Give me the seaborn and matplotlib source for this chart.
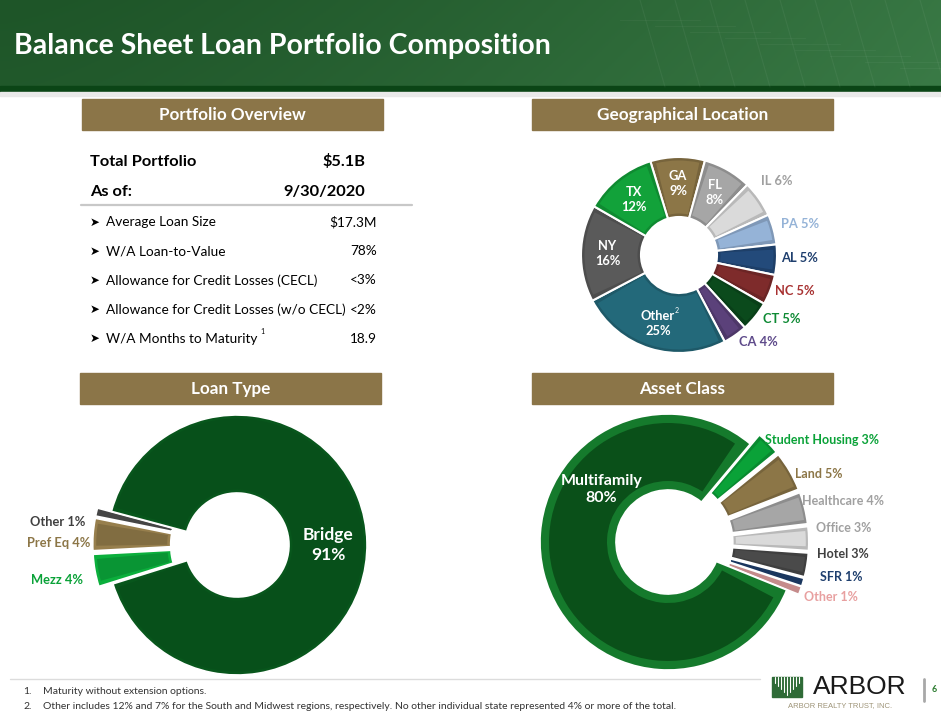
import numpy as np
import matplotlib
matplotlib.use("Agg")
import matplotlib.pyplot as plt
import matplotlib.colors as mcolors
from matplotlib.patches import Rectangle, Wedge
import seaborn as sns

W, H = 941, 722

# ---- data ----
total_portfolio = "$5.1B"
as_of = "9/30/2020"
overview_labels = ["Average Loan Size", "W/A Loan-to-Value", "Allowance for Credit Losses (CECL)",
                   "Allowance for Credit Losses (w/o CECL)", "W/A Months to Maturity"]
overview_values = ["$17.3M", "78%", "<3%", "<2%", "18.9"]

geo_labels = ["GA", "FL", "IL", "PA", "AL", "NC", "CT", "CA", "Other", "NY", "TX"]
geo_values = [9, 8, 6, 5, 5, 5, 5, 4, 25, 16, 12]
geo_colors = ["#8C7647", "#A6A6A6", "#DADADA", "#95B3D7", "#234A7A", "#7E2B2B",
              "#0B4A1C", "#5B417A", "#23697A", "#5A5A5A", "#12A23A"]
geo_text_colors = ["white", "white", "#A0A0A0", "#95B3D7", "#1F3F6E", "#A83232",
                   "#0E8A34", "#5F4B8B", "white", "white", "white"]

loan_labels = ["Other", "Pref Eq", "Mezz", "Bridge"]
loan_values = [1, 4, 4, 91]
loan_colors = ["#404040", "#8C7647", "#0AA238", "#07501A"]
loan_text_colors = ["#404040", "#8C7647", "#0AA238", "white"]

asset_labels = ["Student Housing", "Land", "Healthcare", "Office", "Hotel", "SFR", "Other", "Multifamily"]
asset_values = [3, 5, 4, 3, 3, 1, 1, 80]
asset_colors = ["#0AA238", "#8C7647", "#A6A6A6", "#DADADA", "#4A4A4A", "#1F3F6E", "#E8A3A3", "#0A5019"]
asset_text_colors = ["#0AA238", "#8C7647", "#A0A0A0", "#A0A0A0", "#404040", "#1F3F6E", "#E8A0A0", "white"]

footnotes = ["Maturity without extension options.",
             "Other includes 12% and 7% for the South and Midwest regions, respectively. "
             "No other individual state represented 4% or more of the total."]

# ---- style ----
sns.set_theme(style="white")
plt.rcParams["font.family"] = ["Lato", "DejaVu Sans"]
GOLD = "#8B7548"


def shade(c, f):
    return tuple(np.clip(np.array(mcolors.to_rgb(c)) * f, 0, 1))


fig = plt.figure(figsize=(W / 100, H / 100), dpi=100)
bg = fig.add_axes([0, 0, 1, 1], zorder=0)
top = fig.add_axes([0, 0, 1, 1], zorder=5)
for a in (bg, top):
    a.set_xlim(0, W)
    a.set_ylim(H, 0)
    a.axis("off")
top.patch.set_visible(False)

# header band
gx = np.linspace(0, 1, 300)
gy = np.linspace(0, 1, 40)[:, None]
c1 = np.array(mcolors.to_rgb("#1E5528"))
c2 = np.array(mcolors.to_rgb("#3A7A46"))
t = (gx[None, :] ** 1.4) * 0.9 + gy * 0.1
grad = c1 + (c2 - c1) * t[..., None]
bg.imshow(grad, extent=(0, W, 87, 0), aspect="auto", zorder=0)
for k in range(9):
    x0 = 640 + k * 35
    bg.plot([x0, x0 + 25], [0, 87], color="white", alpha=0.05, lw=0.8)
    bg.plot([x0 - 20, x0 + 60], [20 + k * 6, 20 + k * 6], color="white", alpha=0.04, lw=0.8)
bg.add_patch(Rectangle((0, 86), W, 6, color="#0B4516", zorder=1))
bg.add_patch(Rectangle((0, 92), W, 4, color="#E9E9E9", zorder=1))
bg.set_xlim(0, W)
bg.set_ylim(H, 0)
top.text(14, 46, "Balance Sheet Loan Portfolio Composition", color="white", fontsize=20.5,
         fontweight="bold", va="center", ha="left")

# section headers
for (x0, y0, txt) in [(82, 99, "Portfolio Overview"), (532, 99, "Geographical Location"),
                      (80, 373, "Loan Type"), (532, 373, "Asset Class")]:
    bg.add_patch(Rectangle((x0, y0), 301, 31, color=GOLD, zorder=1))
    top.text(x0 + 150.5, y0 + 16, txt, color="white", fontsize=12.3, fontweight="bold",
             ha="center", va="center")

# portfolio overview
top.text(90, 162, "Total Portfolio", fontsize=11.8, fontweight="bold", va="center", color="black")
top.text(365, 162, total_portfolio, fontsize=11.8, fontweight="bold", va="center", ha="right", color="black")
top.text(90, 192, "As of:", fontsize=11.8, fontweight="bold", va="center", color="black")
top.text(365, 192, as_of, fontsize=11.8, fontweight="bold", va="center", ha="right", color="black")
bg.plot([81, 412], [205, 205], color="#C8C8C8", lw=1.6)
for i, (lab, val) in enumerate(zip(overview_labels, overview_values)):
    y = 222 + i * 29.2
    top.text(90, y, "\u27a4", fontsize=8.5, va="center", color="black", family=["DejaVu Sans"])
    top.text(106, y, lab, fontsize=9.8, va="center", color="black")
    top.text(377, y, val, fontsize=9.8, va="center", ha="right", color="black")
top.text(260, 331, "1", fontsize=5, va="center", color="black")


# ---- donuts ----
def pie_axes(cx, cy, R, half):
    ax = fig.add_axes([(cx - half) / W, 1 - (cy + half) / H, 2 * half / W, 2 * half / H], zorder=2)
    return ax


def finish(ax, R, half):
    ax.set_xlim(-half / R, half / R)
    ax.set_ylim(-half / R, half / R)
    ax.axis("off")


def bevel(ax, wedges, colors, band, R):
    d = band / R
    for w, c in zip(wedges, colors):
        rmid = w.r - w.width / 2
        dt = np.degrees(d / rmid)
        if w.theta2 - w.theta1 <= 2 * dt + 0.5:
            continue
        ax.add_patch(Wedge(w.center, w.r - d, w.theta1 + dt, w.theta2 - dt,
                           width=w.width - 2 * d, facecolor=c, edgecolor="none", zorder=3))


def to_px(cx, cy, R, w, r):
    a = np.radians((w.theta1 + w.theta2) / 2)
    return cx + (w.center[0] + r * np.cos(a)) * R, cy - (w.center[1] + r * np.sin(a)) * R


# geographical location
gcx, gcy, gR = 679, 255, 98
ax = pie_axes(gcx, gcy, gR, 140)
wedges, _ = ax.pie(geo_values, colors=[shade(c, 0.85) for c in geo_colors], startangle=107,
                   counterclock=False, radius=1,
                   wedgeprops=dict(width=(gR - 38) / gR, edgecolor="white", linewidth=1.5))
bevel(ax, wedges, geo_colors, 3.5, gR)
finish(ax, gR, 140)
geo_outside = {"IL": (777, 181), "PA": (800, 224), "AL": (800, 258),
               "NC": (795, 291), "CT": (782, 319), "CA": (758, 342)}
for w, lab, v, tc in zip(wedges, geo_labels, geo_values, geo_text_colors):
    if lab in geo_outside:
        x, y = geo_outside[lab]
        top.text(x, y, f"{lab} {v}%", color=tc, fontsize=9.3, fontweight="bold", ha="center", va="center")
    else:
        x, y = to_px(gcx, gcy, gR, w, 0.73)
        top.text(x, y, f"{lab}\n{v}%", color=tc, fontsize=9.3, fontweight="bold", ha="center",
                 va="center", linespacing=1.3)
        if lab == "Other":
            top.text(x + 19, y - 13, "2", color="white", fontsize=5, ha="center", va="center")

# loan type
lcx, lcy, lR = 237, 545, 130
ax = pie_axes(lcx, lcy, lR, 180)
wedges, _ = ax.pie(loan_values, colors=[shade(c, 1.08) for c in loan_colors], startangle=165,
                   counterclock=True, explode=[0.11, 0.11, 0.11, 0], radius=1,
                   wedgeprops=dict(width=(lR - 52) / lR, edgecolor="white", linewidth=1.2))
bevel(ax, wedges, [shade(c, 0.92) for c in loan_colors[:3]] + [loan_colors[3]], 3.5, lR)
finish(ax, lR, 180)
loan_pos = {"Other": (58, 522), "Pref Eq": (59, 543), "Mezz": (57, 580)}
for w, lab, v, tc in zip(wedges, loan_labels, loan_values, loan_text_colors):
    if lab in loan_pos:
        x, y = loan_pos[lab]
        top.text(x, y, f"{lab} {v}%", color=tc, fontsize=9.3, fontweight="bold", ha="center", va="center")
    else:
        top.text(lcx + 0.7 * lR, lcy, f"{lab}\n{v}%", color=tc, fontsize=12.5, fontweight="bold",
                 ha="center", va="center", linespacing=1.35)

# asset class
acx, acy, aR = 668, 542, 128
ax = pie_axes(acx, acy, aR, 180)
borders = [shade(c, 0.85) for c in asset_colors[:7]] + ["#157A2C"]
wedges, _ = ax.pie(asset_values, colors=borders, startangle=50, counterclock=False,
                   explode=[0.1] * 7 + [0], radius=1,
                   wedgeprops=dict(width=(aR - 52) / aR, edgecolor="white", linewidth=1.2))
bevel(ax, wedges[:7], asset_colors[:7], 3, aR)
bevel(ax, wedges[7:], asset_colors[7:], 9, aR)
finish(ax, aR, 180)
asset_pos = {"Student Housing": (822, 440), "Land": (819, 474), "Healthcare": (843, 501),
             "Office": (844, 528), "Hotel": (843, 554), "SFR": (841, 577), "Other": (831, 597)}
for w, lab, v, tc in zip(wedges, asset_labels, asset_values, asset_text_colors):
    if lab in asset_pos:
        x, y = asset_pos[lab]
        top.text(x, y, f"{lab} {v}%", color=tc, fontsize=9, fontweight="bold", ha="center", va="center")
    else:
        top.text(acx - 0.52 * aR, acy - 0.41 * aR, f"{lab}\n{v}%", color=tc, fontsize=11.5,
                 fontweight="bold", ha="center", va="center", linespacing=1.3)

# footer
bg.plot([10, 760], [679, 679], color="#DCDCDC", lw=1)
for i, fn in enumerate(footnotes):
    y = 692 + i * 14.5
    top.text(23, y, f"{i + 1}.", fontsize=7.5, color="#333333", va="center")
    top.text(43, y, fn, fontsize=7.5, color="#333333", va="center")

# logo
bg.add_patch(Rectangle((772, 677), 30, 20, color="#2F6B37", zorder=2))
for k, xv in enumerate(np.linspace(775, 799, 9)):
    depth = 6 + 12 * (1 - abs(k - 4) / 4)
    bg.plot([xv, xv], [677, 677 + depth], color="white", lw=0.8, zorder=3)
top.text(860, 687, "ARBOR", fontsize=19, color="#1A1A1A", ha="center", va="center",
         family=["Liberation Sans", "DejaVu Sans"])
top.text(840, 706, "ARBOR REALTY TRUST, INC.", fontsize=5.5, color="#9E9478", ha="center", va="center",
         family=["Liberation Sans", "DejaVu Sans"])
bg.plot([924, 924], [679, 701], color="#A8A8A8", lw=2)
top.text(934, 690, "6", fontsize=6.5, color="#2E7D32", fontweight="bold", ha="center", va="center")

fig.savefig("out.png", dpi=100)
